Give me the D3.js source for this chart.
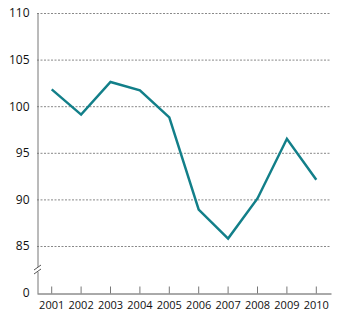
<!DOCTYPE html>
<html><head><meta charset="utf-8">
<script src="https://cdn.jsdelivr.net/npm/d3@7"></script>
<style>body{margin:0;background:#fff}svg{display:block}text{font-family:"Open Sans",sans-serif}</style>
</head><body><svg width="350" height="324"></svg>
<script>
const years = ["2001","2002","2003","2004","2005","2006","2007","2008","2009","2010"];
const values = [101.8, 99.1, 102.6, 101.7, 98.8, 88.9, 85.8, 90.1, 96.5, 92.1];
const yTicks = [0, 85, 90, 95, 100, 105, 110];

const svg = d3.select("svg");
const left = 37, right = 331, bottom = 293;
const x = d3.scaleBand().domain(years).range([left, right]);
const y = d3.scaleLinear().domain([0, 85, 110]).range([bottom, 246, 13]);

// gridlines
svg.append("g").selectAll("line").data(yTicks.filter(d => d > 0)).join("line")
  .attr("x1", left).attr("x2", right)
  .attr("y1", d => y(d) + 0.5).attr("y2", d => y(d) + 0.5)
  .attr("stroke", "#888").attr("stroke-width", 1).attr("stroke-dasharray", "2,1.5");

// y axis
const yAxis = svg.append("g").attr("transform", `translate(${left + 0.5},0)`)
  .call(d3.axisLeft(y).tickValues(yTicks).tickSize(0).tickPadding(8).tickFormat(d3.format("d")));
yAxis.select(".domain").attr("stroke", "#777");
yAxis.selectAll("text").attr("font-size", 12).attr("fill", "#111");

// break mark (white gap + slashes)
svg.append("rect").attr("x", left - 3).attr("y", 267).attr("width", 7).attr("height", 5).attr("fill", "#fff");
[267, 271].forEach(v => {
  svg.append("line").attr("x1", left - 3).attr("x2", left + 4)
    .attr("y1", v + 3).attr("y2", v - 2).attr("stroke", "#555").attr("stroke-width", 1);
});

// x axis
const xAxis = svg.append("g").attr("transform", `translate(0,${bottom + 0.5})`)
  .call(d3.axisBottom(x).tickSizeInner(-7).tickSizeOuter(0).tickPadding(8));
xAxis.select(".domain").attr("stroke", "#555");
xAxis.selectAll(".tick line").attr("stroke", "#777");
xAxis.selectAll("text").attr("font-size", 11).attr("fill", "#111").attr("dy", "0.9em").attr("y", 6);

// line
const line = d3.line().x((d, i) => x(years[i]) + x.bandwidth() / 2).y(d => y(d));
svg.append("path").datum(values).attr("d", line)
  .attr("fill", "none").attr("stroke", "#127f89").attr("stroke-width", 2.5)
  .attr("stroke-linejoin", "miter");
</script></body></html>
